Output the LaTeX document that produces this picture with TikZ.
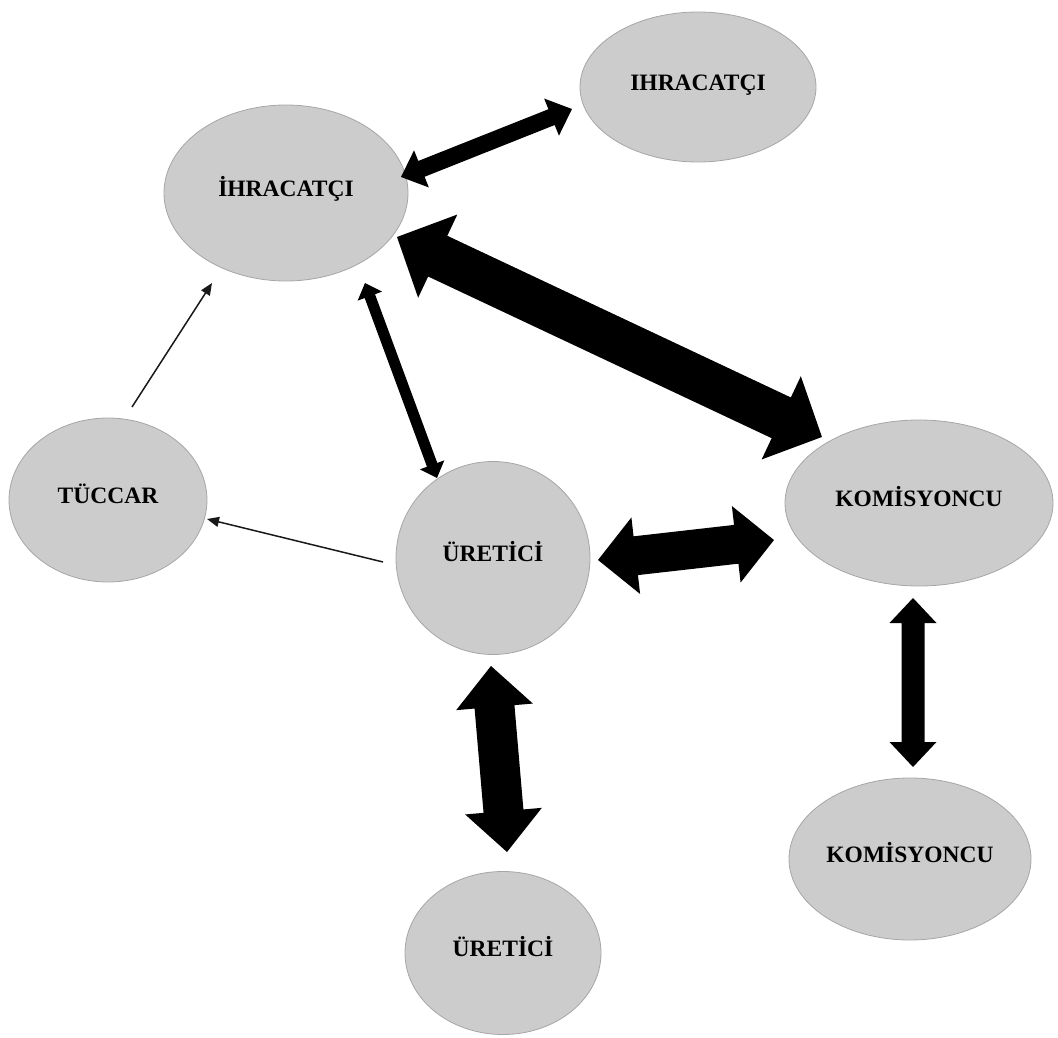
\documentclass[tikz,border=0pt]{standalone}
\usepackage{fontspec}
\setmainfont{Liberation Serif}
\usetikzlibrary{calc,arrows.meta,shapes.geometric}

\tikzset{
  actor/.style={ellipse, draw=black!35, line width=0.8pt, fill=black!20,
    inner sep=0pt, font=\fontsize{23.5}{27}\selectfont\bfseries,
    text height=16pt, text depth=9pt},
  thinarrow/.style={line width=1.5pt, black!90,
    -{Triangle[length=12pt,width=10pt]}},
}

% Filled double-headed block arrow between two named coordinates.
% #3 shaft width, #4 head width, #5 head length (all in picture units).
\newcommand\blockarrow[5]{%
  \fill let \p1=(#1), \p2=(#2),
    \n1={atan2(\y2-\y1,\x2-\x1)}, \n2={veclen(\x2-\x1,\y2-\y1)} in
    [shift={(\p1)}, rotate=\n1]
    (0,0) -- (#5,#4/2) -- (#5,#3/2) -- (\n2-#5,#3/2) -- (\n2-#5,#4/2)
    -- (\n2,0) -- (\n2-#5,-#4/2) -- (\n2-#5,-#3/2) -- (#5,-#3/2)
    -- (#5,-#4/2) -- cycle;}

\begin{document}
\begin{tikzpicture}[x=1pt,y=-1pt]
\useasboundingbox (0,0) rectangle (1058,1038);

% actors
\node[actor, minimum width=236pt, minimum height=150pt] (ihrR) at (698,87)  {IHRACATÇI};
\node[actor, minimum width=244pt, minimum height=176pt] (ihrL) at (286,193) {İHRACATÇI};
\node[actor, minimum width=198pt, minimum height=164pt] (tuc)  at (108,500) {TÜCCAR};
\node[actor, minimum width=194pt, minimum height=193pt] (ureM) at (493,558) {ÜRETİCİ};
\node[actor, minimum width=268pt, minimum height=166pt] (komR) at (919,503) {KOMİSYONCU};
\node[actor, minimum width=242pt, minimum height=162pt] (komB) at (910,859) {KOMİSYONCU};
\node[actor, minimum width=196pt, minimum height=163pt] (ureB) at (503,953) {ÜRETİCİ};

% arrow end points, placed relative to the actors they touch
\path (ihrL.center) ++(115,-16) coordinate (a1s);
\path (ihrR.center) ++(-126,22) coordinate (a1e);
\path (ihrL.center) ++(111,44)  coordinate (a2s);
\path (komR.center) ++(-97,-66) coordinate (a2e);
\path (ihrL.center) ++(79,90)   coordinate (a3s);
\path (ureM.center) ++(-56,-80) coordinate (a3e);
\path (tuc.center)  ++(24,-93)  coordinate (a4s);
\path (ihrL.center) ++(-74,90)  coordinate (a4e);
\path (ureM.center) ++(-110,4)  coordinate (a5s);
\path (tuc.center)  ++(99,19)   coordinate (a5e);
\path (ureM.center) ++(105,2)   coordinate (a6s);
\path (komR.center) ++(-145,37) coordinate (a6e);
\path (ureM.center) ++(-2,108)  coordinate (a7s);
\path (ureB.center) ++(4,-101)  coordinate (a7e);
\path (komR.center) ++(-6,95)   coordinate (a8s);
\path (komB.center) ++(3,-92)   coordinate (a8e);

% two-way flows
\blockarrow{a1s}{a1e}{17}{40}{22}
\blockarrow{a2s}{a2e}{45}{92}{45}
\blockarrow{a3s}{a3e}{11}{26}{14}
\blockarrow{a6s}{a6e}{39}{77}{38}
\blockarrow{a7s}{a7e}{40}{77}{41}
\blockarrow{a8s}{a8e}{23}{47}{25}

% one-way flows
\draw[thinarrow] (a4s) -- (a4e);
\draw[thinarrow] (a5s) -- (a5e);
\end{tikzpicture}
\end{document}
